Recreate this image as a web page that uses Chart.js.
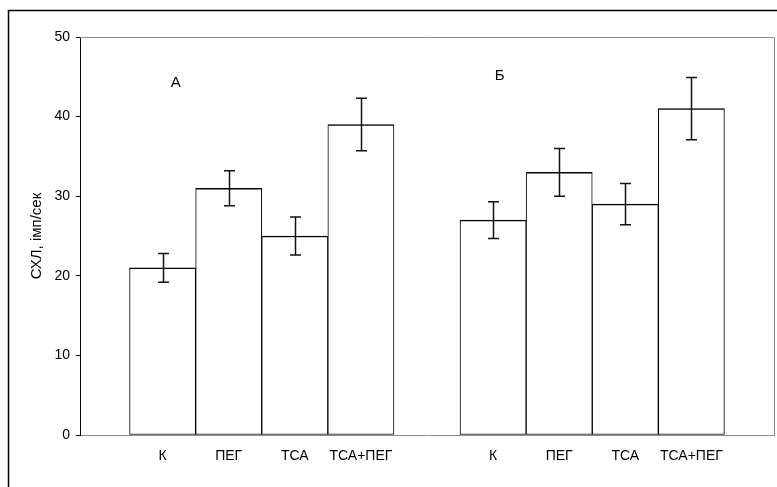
<!DOCTYPE html>
<html>
<head>
<meta charset="utf-8">
<title>СХЛ</title>
<script src="https://cdn.jsdelivr.net/npm/chart.js@4.4.0/dist/chart.umd.min.js"></script>
<style>
  html, body { margin: 0; padding: 0; background: #fff; }
  #wrap { width: 777px; height: 487px; }
</style>
</head>
<body>
<div id="wrap"><canvas id="chart" width="777" height="487"></canvas></div>
<script>
const categories = ['К', 'ПЕГ', 'ТСА', 'ТСА+ПЕГ'];
const groups = ['А', 'Б'];
const valuesA = [21, 31, 25, 39];
const errorsA = [1.8, 2.2, 2.4, 3.3];
const valuesB = [27, 33, 29, 41];
const errorsB = [2.3, 3.0, 2.6, 3.9];
const yTicks = [0, 10, 20, 30, 40, 50];
const yTitle = 'СХЛ, імп/сек';

// x layout in bar widths: margin on each side, gap between the two groups
const SIDE = 0.75;
const GAP = 1;
const xMax = SIDE * 2 + categories.length * 2 + GAP;

function barPos(g, i) {
  return SIDE + g * (categories.length + GAP) + i + 0.5;
}

const allValues = [valuesA, valuesB];
const allErrors = [errorsA, errorsB];
const points = [];
const errs = [];
const tickPos = [];
const tickText = [];
allValues.forEach((vals, g) => {
  vals.forEach((v, i) => {
    points.push({ x: barPos(g, i), y: v });
    errs.push(allErrors[g][i]);
    tickPos.push(barPos(g, i));
    tickText.push(categories[i]);
  });
});

const sans = "'Liberation Sans', Arial, sans-serif";

const extras = {
  id: 'extras',
  beforeDraw(chart) {
    const ctx = chart.ctx;
    ctx.save();
    ctx.fillStyle = '#fff';
    ctx.fillRect(0, 0, chart.width, chart.height);
    ctx.strokeStyle = '#000';
    ctx.lineWidth = 1.5;
    ctx.strokeRect(8.5, 10.5, 800, 600);
    ctx.restore();
  },
  afterDatasetsDraw(chart) {
    const ctx = chart.ctx;
    const xs = chart.scales.x;
    const ys = chart.scales.y;
    const area = chart.chartArea;
    ctx.save();
    // plot frame top and right
    ctx.strokeStyle = '#8c8c8c';
    ctx.lineWidth = 1;
    ctx.beginPath();
    ctx.moveTo(area.left, Math.round(area.top) + 0.5);
    ctx.lineTo(Math.round(area.right) + 0.5, Math.round(area.top) + 0.5);
    ctx.lineTo(Math.round(area.right) + 0.5, area.bottom);
    ctx.stroke();

    // error bars
    ctx.strokeStyle = '#111';
    ctx.lineWidth = 1.5;
    points.forEach((p, i) => {
      const x = Math.round(xs.getPixelForValue(p.x)) + 0.5;
      const y1 = ys.getPixelForValue(p.y + errs[i]);
      const y2 = ys.getPixelForValue(p.y - errs[i]);
      ctx.beginPath();
      ctx.moveTo(x, y1);
      ctx.lineTo(x, y2);
      ctx.moveTo(x - 5.5, y1);
      ctx.lineTo(x + 5.5, y1);
      ctx.moveTo(x - 5.5, y2);
      ctx.lineTo(x + 5.5, y2);
      ctx.stroke();
    });

    // group letters
    ctx.fillStyle = '#000';
    ctx.font = '15px ' + sans;
    ctx.textAlign = 'center';
    ctx.textBaseline = 'middle';
    ctx.fillText(groups[0], xs.getPixelForValue(barPos(0, 0) + 0.2), ys.getPixelForValue(44.3));
    ctx.fillText(groups[1], xs.getPixelForValue(barPos(1, 0) + 0.1), ys.getPixelForValue(45.1));
    ctx.restore();
  }
};

new Chart(document.getElementById('chart'), {
  type: 'bar',
  data: {
    datasets: [{
      data: points,
      backgroundColor: '#fff',
      borderColor: '#000',
      borderWidth: { top: 1.5, left: 1, right: 1, bottom: 1 },
      borderSkipped: false,
      barPercentage: 1,
      categoryPercentage: 1
    }]
  },
  options: {
    responsive: false,
    animation: false,
    layout: { padding: { top: 37, right: 3, left: 0, bottom: 0 } },
    plugins: {
      legend: { display: false },
      tooltip: { enabled: false }
    },
    scales: {
      x: {
        type: 'linear',
        min: 0,
        max: xMax,
        offset: false,
        grid: { drawOnChartArea: false, drawTicks: false },
        border: { color: '#8c8c8c', width: 1 },
        afterBuildTicks: (scale) => {
          scale.ticks = tickPos.map(v => ({ value: v }));
        },
        afterFit: (scale) => { scale.height = 52; },
        ticks: {
          autoSkip: false,
          maxRotation: 0,
          padding: 13,
          color: '#000',
          font: { family: sans, size: 14 },
          callback: (value, index) => tickText[index]
        }
      },
      y: {
        min: 0,
        max: 50,
        afterBuildTicks: (scale) => {
          scale.ticks = yTicks.map(v => ({ value: v }));
        },
        afterFit: (scale) => { scale.width = 80; },
        grid: { drawOnChartArea: false, drawTicks: true, tickLength: 4, color: '#000' },
        border: { color: '#000', width: 1 },
        ticks: {
          padding: 6,
          color: '#000',
          font: { family: sans, size: 14 }
        },
        title: {
          display: true,
          text: yTitle,
          color: '#000',
          padding: { top: 28, bottom: 0 },
          font: { family: sans, size: 15 }
        }
      }
    }
  },
  plugins: [extras]
});
</script>
</body>
</html>
